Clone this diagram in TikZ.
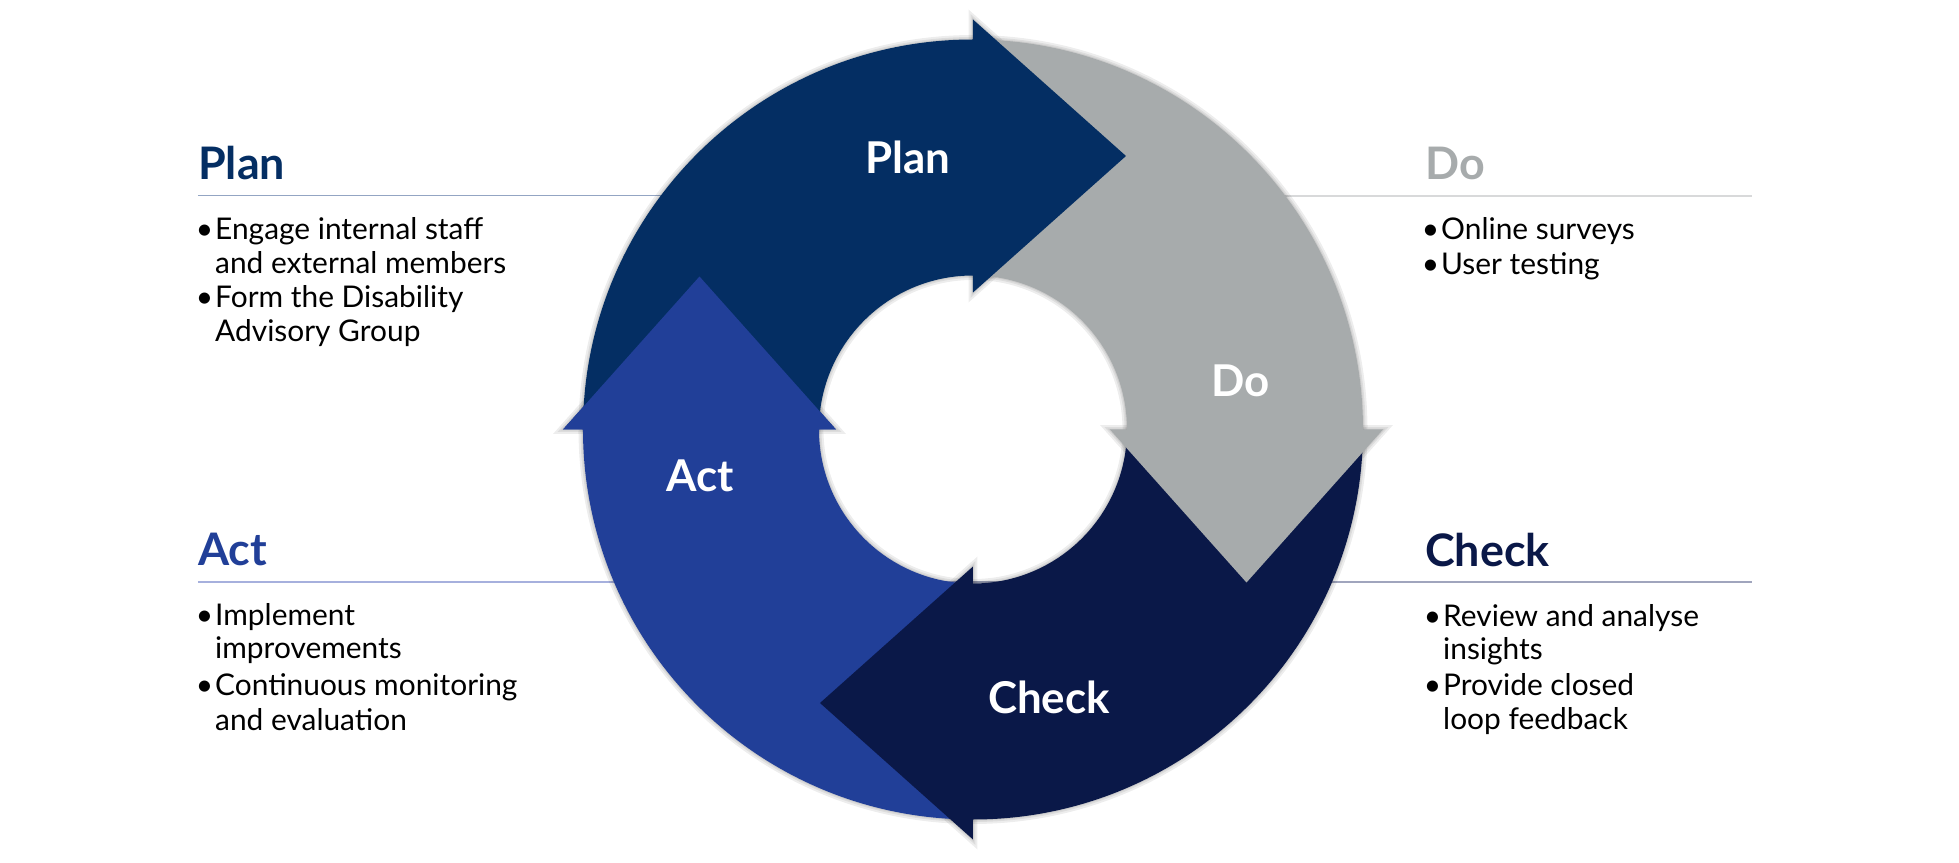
\documentclass[tikz,border=0pt]{standalone}
\usepackage{fontspec}
\setmainfont{Lato}
\usepackage{xcolor}
\definecolor{planblue}{HTML}{042E63}
\definecolor{dogrey}{HTML}{A7ABAC}
\definecolor{checknavy}{HTML}{0A1848}
\definecolor{actblue}{HTML}{213F98}
\definecolor{planline}{HTML}{93A5C3}
\definecolor{doline}{HTML}{D8D9DA}
\definecolor{actline}{HTML}{A6B0DD}
\definecolor{checkline}{HTML}{A0A5BD}

% outlines of the four arrows (centre of the ring at the origin)
\def\planarrow{(180:390) arc[start angle=180, end angle=90, radius=390] -- (0,410) -- (153,273.5) -- (0,137) -- (0,154) arc[start angle=90, end angle=180, radius=154] -- cycle}
\def\doarrow{(90:390) arc[start angle=90, end angle=0, radius=390] -- (410,0) -- (273.5,-153) -- (137,0) -- (154,0) arc[start angle=0, end angle=90, radius=154] -- cycle}
\def\checkarrow{(0:390) arc[start angle=0, end angle=-90, radius=390] -- (0,-410) -- (-153,-273.5) -- (0,-137) -- (0,-154) arc[start angle=-90, end angle=0, radius=154] -- cycle}
\def\actarrow{(270:390) arc[start angle=270, end angle=180, radius=390] -- (-410,0) -- (-273.5,153) -- (-137,0) -- (-154,0) arc[start angle=180, end angle=270, radius=154] -- cycle}
% head of the Act arrow again, a little deeper, to lie over Plan
\def\acthead{(-410,0) -- (-273.5,153) -- (-137,0) -- (-154,0) -- (-154,-3) -- (-390,-3) -- (-390,0) -- cycle}

\begin{document}
\begin{tikzpicture}[x=1bp, y=1bp,
	headtext/.style={anchor=base west, inner sep=0pt, font=\fontsize{45}{45}\selectfont\bfseries},
	cyclelabel/.style={inner sep=0pt, text=white, font=\fontsize{44}{44}\selectfont\bfseries},
	itemtext/.style={anchor=base west, inner sep=0pt, font=\fontsize{30}{30}\selectfont},
	headrule/.style={line width=1.6bp},
	softshadow/.style={draw=black, opacity=0.07, line width=#1}]

	\useasboundingbox (-973,-433.5) rectangle (986,429.5);

	% Draw the rules under the headings (they run behind the ring)
	\draw[headrule, planline] (-775,233.8) -- (0,233.8);
	\draw[headrule, doline] (0,233.5) -- (778.7,233.5);
	\draw[headrule, actline] (-775,-152.2) -- (0,-152.2);
	\draw[headrule, checkline] (0,-152.2) -- (778.7,-152.2);

	% Soft shadow round the ring
	\foreach \w in {9,5,2} {
		\draw[softshadow=\w] \planarrow;
		\draw[softshadow=\w] \doarrow;
		\draw[softshadow=\w] \checkarrow;
		\draw[softshadow=\w] \actarrow;
	}

	% Draw the arrows, each head lying over the tail of the next one
	\fill[actblue] \actarrow;
	\fill[checknavy] \checkarrow;
	\fill[dogrey] \doarrow;
	\fill[planblue] \planarrow;
	\fill[actblue] \acthead;

	% Labels on the ring
	\node[cyclelabel] (Lplan) at (-65,272) {Plan};
	\node[cyclelabel] (Ldo) at (268,49) {Do};
	\node[cyclelabel] (Lcheck) at (76,-268) {Check};
	\node[cyclelabel] (Lact) at (-273,-46) {Act};

	% Plan block
	\begin{scope}
		\node[headtext, text=planblue] (Hplan) at (-775,250.2) {Plan};
		\node[itemtext] (P1) at (-758,190.2) {\llap{\textbullet\hspace{2bp}}Engage internal staff};
		\node[itemtext] (P2) at (-758,156) {and external members};
		\node[itemtext] (P3) at (-758,122) {\llap{\textbullet\hspace{2bp}}Form the Disability};
		\node[itemtext] (P4) at (-758,87.5) {Advisory Group};
	\end{scope}

	% Do block
	\begin{scope}
		\node[headtext, text=dogrey] (Hdo) at (452,249.5) {Do};
		\node[itemtext] (D1) at (468,190.2) {\llap{\textbullet\hspace{2bp}}Online surveys};
		\node[itemtext] (D2) at (468,154.5) {\llap{\textbullet\hspace{2bp}}User testing};
	\end{scope}

	% Act block
	\begin{scope}
		\node[headtext, text=actblue] (Hact) at (-775,-136.2) {Act};
		\node[itemtext] (A1) at (-758,-195.5) {\llap{\textbullet\hspace{2bp}}Implement};
		\node[itemtext] (A2) at (-758,-229) {improvements};
		\node[itemtext] (A3) at (-758,-265.5) {\llap{\textbullet\hspace{2bp}}Continuous monitoring};
		\node[itemtext] (A4) at (-758,-301) {and evaluation};
	\end{scope}

	% Check block
	\begin{scope}
		\node[headtext, text=checknavy] (Hcheck) at (452,-137.2) {Check};
		\node[itemtext] (C1) at (470,-196.5) {\llap{\textbullet\hspace{2bp}}Review and analyse};
		\node[itemtext] (C2) at (470,-230) {insights};
		\node[itemtext] (C3) at (470,-265.5) {\llap{\textbullet\hspace{2bp}}Provide closed};
		\node[itemtext] (C4) at (470,-300) {loop feedback};
	\end{scope}
\end{tikzpicture}
\end{document}
